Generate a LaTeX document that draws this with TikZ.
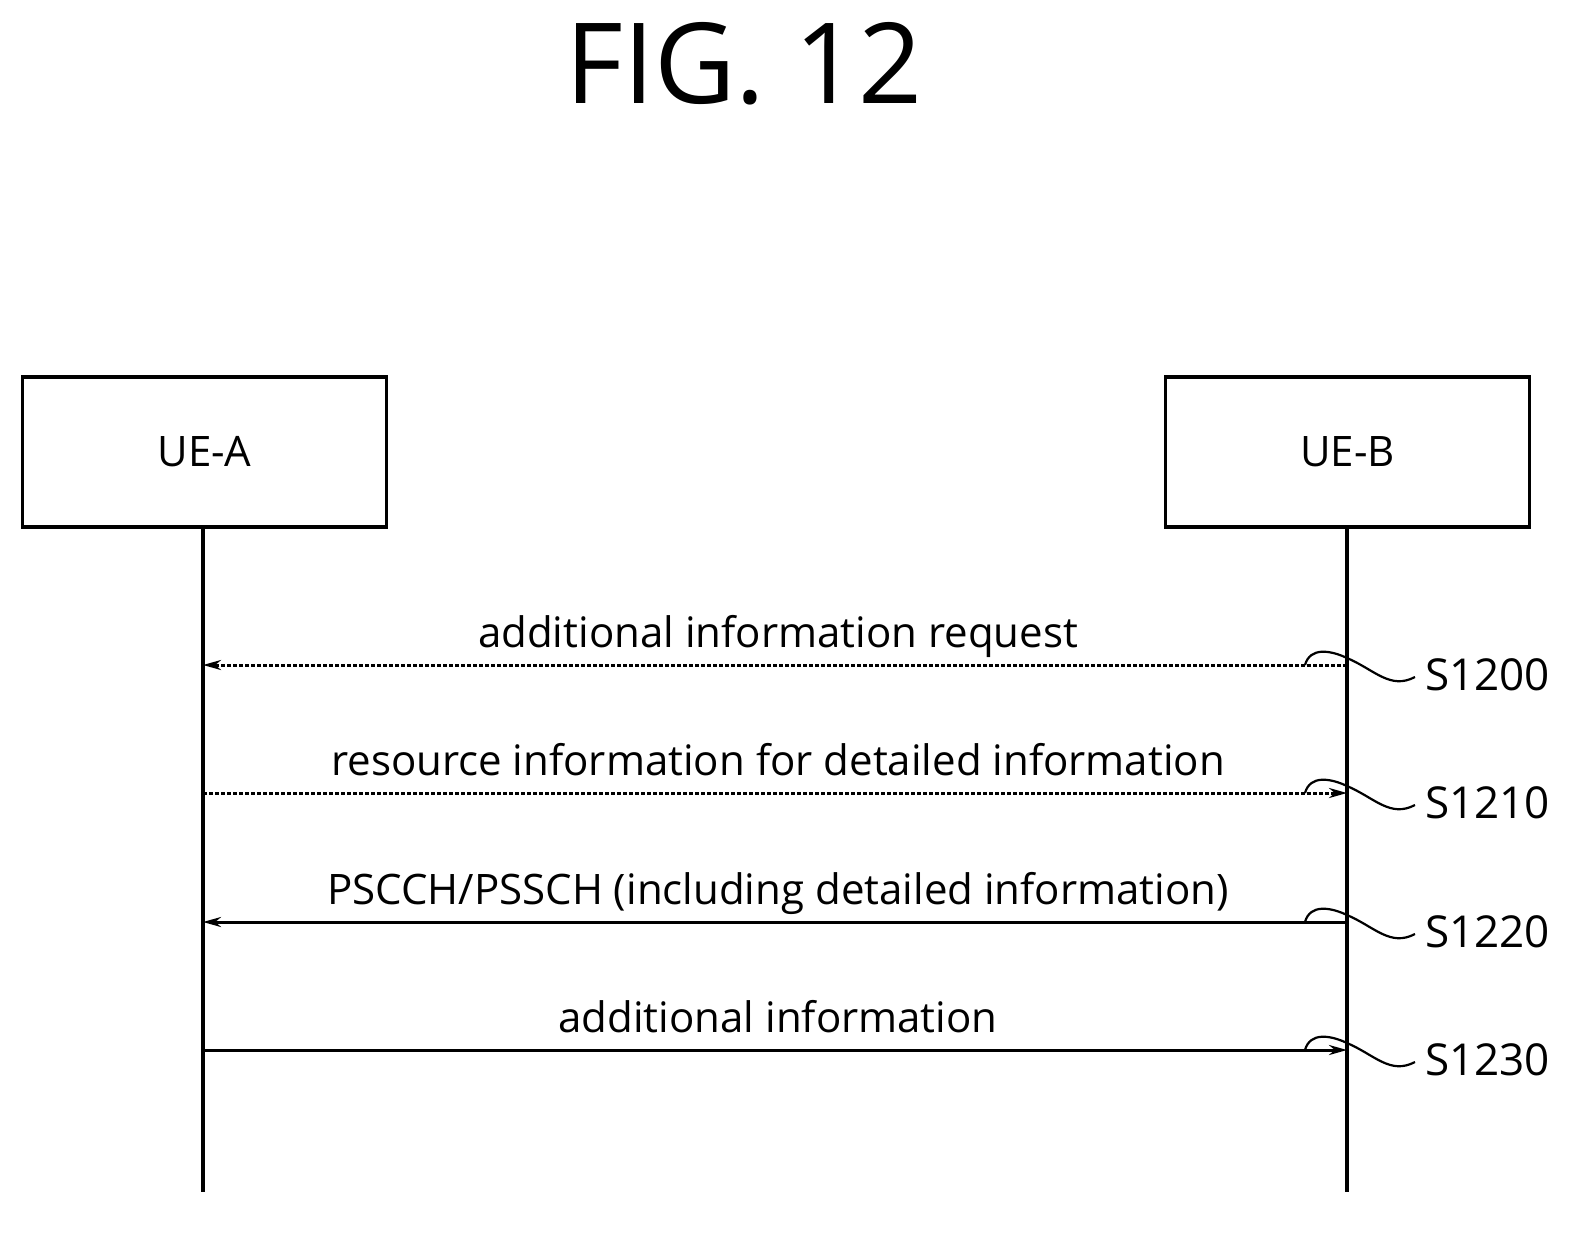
\documentclass[tikz,border=0pt]{standalone}
\usepackage{fontspec}
\setmainfont{Open Sans}
\usetikzlibrary{arrows.meta}
\begin{document}
\begin{tikzpicture}[x=0.5pt,y=-0.5pt,
  box/.style={draw,line width=1.6pt,minimum width=182pt,minimum height=75pt,font=\fontsize{21}{25}\selectfont},
  life/.style={line width=1.6pt},
  msg/.style={line width=1.5pt,-{Stealth[length=9pt,width=5pt]}},
  dsh/.style={dash pattern=on 2pt off 1pt},
  lbl/.style={font=\fontsize{21}{25}\selectfont,anchor=base},
  steplbl/.style={font=\fontsize{22}{26}\selectfont,anchor=west},
  sq/.style={line width=1.1pt}]
\useasboundingbox (0,0) rectangle (1593,1232);
\node[font=\fontsize{56}{64}\selectfont] (title) at (744,64) {FIG. 12};
\node[box] (A) at (204.5,452) {UE-A};
\node[box] (B) at (1347.5,452) {UE-B};
\coordinate (Ae) at (203,1192);
\coordinate (Be) at (1347,1192);
\draw[life] (A.south -| Ae) -- (Ae);
\draw[life] (B.south -| Be) -- (Be);
\foreach \y/\t/\s/\dir/\st in {665/{additional information request}/S1200/l/dsh,
  793/{resource information for detailed information}/S1210/r/dsh,
  922/{PSCCH/PSSCH (including detailed information)}/S1220/l/solid,
  1050/{additional information}/S1230/r/solid}{
  \coordinate (a\s) at (203,\y);
  \coordinate (b\s) at (1347,\y);
  \if l\dir \draw[msg,\st] (b\s) -- (a\s);
  \else \draw[msg,\st] (a\s) -- (b\s); \fi
  \node[lbl] (t\s) at (778,\y-18) {\t};
  \node[steplbl] (n\s) at (1418,\y+10) {\s};
  \draw[sq] (1305,\y) .. controls (1310,\y-18) and (1330,\y-15) .. (1347,\y-7)
     .. controls (1375,\y+5) and (1390,\y+25) .. (1415,\y+12);
}
\end{tikzpicture}
\end{document}
